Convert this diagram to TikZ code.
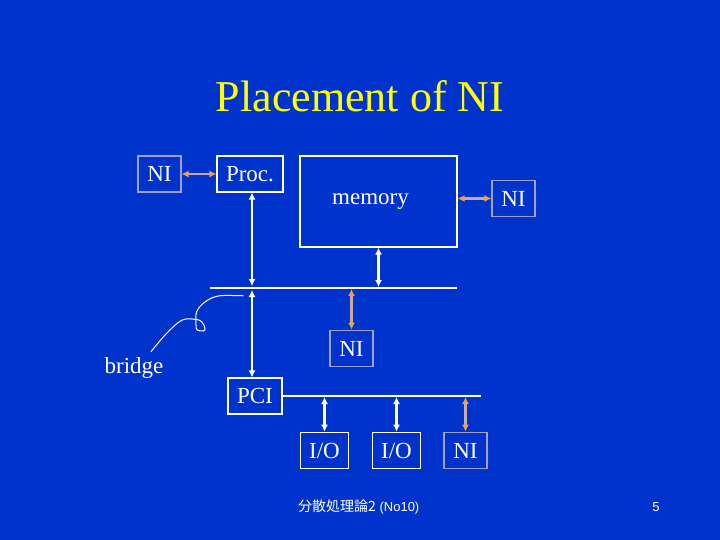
\documentclass[tikz,border=0pt]{standalone}
\usepackage{fontspec}
\setmainfont{Liberation Serif}
\newfontfamily\jpfont{Noto Sans CJK JP}
\newfontfamily\arfont{Liberation Sans}
\usetikzlibrary{arrows.meta}
\definecolor{bg}{RGB}{0,51,204}
\definecolor{lilac}{RGB}{160,160,205}
\definecolor{oshaft}{RGB}{200,170,170}
\definecolor{ohead}{RGB}{240,160,60}
\definecolor{ttl}{RGB}{255,255,0}
\tikzset{
  box/.style={draw=white, line width=1.1pt, text=white, inner sep=0pt, font=\fontsize{23}{26}\selectfont},
  nibox/.style={box, draw=lilac},
  warrow/.style={draw=white, line width=2.4pt, {Latex[length=7pt,width=7pt]}-{Latex[length=7pt,width=7pt]}},
  oarrow/.style={draw=oshaft, line width=2.4pt, {Latex[length=7pt,width=7pt,color=ohead]}-{Latex[length=7pt,width=7pt,color=ohead]}},
  bus/.style={draw=white, line width=1.2pt},
  lbl/.style={text=white, inner sep=0pt, font=\fontsize{23}{26}\selectfont}
}
\begin{document}
\begin{tikzpicture}[x=1pt,y=-1pt]
\fill[bg] (0,0) rectangle (720,540);
\useasboundingbox (0,0) rectangle (720,540);

\node[text=ttl, font=\fontsize{44}{50}\selectfont] (title) at (360,96) {Placement of NI};

\node[nibox, minimum width=43pt, minimum height=36pt] (niL) at (159.5,174) {NI};
\node[box, minimum width=66pt, minimum height=36pt] (proc) at (250,174) {Proc.};
\node[box, minimum width=157pt, minimum height=91pt, label={[lbl, xshift=-8pt]center:memory}] (mem) at (378.5,201.5) {};
\node[nibox, minimum width=43pt, minimum height=36.5pt] (niR) at (513.5,198.5) {NI};
\node[nibox, minimum width=43pt, minimum height=36.5pt] (niM) at (351.5,348.5) {NI};
\node[box, minimum width=54pt, minimum height=36pt] (pci) at (255,396) {PCI};
\node[box, minimum width=48.5pt, minimum height=36.5pt] (io1) at (324.5,450.5) {I/O};
\node[box, minimum width=48.5pt, minimum height=36.5pt] (io2) at (396.5,450.5) {I/O};
\node[nibox, minimum width=43pt, minimum height=36.5pt] (niB) at (465.5,450.5) {NI};
\node[lbl] (bridge) at (134,368) {bridge};

\node[text=white, inner sep=0pt, anchor=base west] (foot) at (298,511) {\fontsize{14}{16}\selectfont\jpfont 分散処理論2\arfont\fontsize{13}{16}\selectfont\ (No10)};
\node[text=white, inner sep=0pt, font=\arfont\fontsize{13}{16}\selectfont, anchor=base] (pg) at (656,511) {5};

% buses
\coordinate (busL) at (210,288);
\coordinate (busR) at (457,288);
\coordinate (pbusR) at (481,396);
\coordinate (vx) at (252,0);
\draw[bus] (busL) -- (busR);
\draw[bus] (pci.east) -- (pbusR);

% connectors
\draw[oarrow] (niL.east) -- (proc.west);
\draw[oarrow] (niR.west -| mem.east) -- (niR.west);
\draw[warrow, shorten >=2pt] (vx |- proc.south) -- (vx |- busL);
\draw[warrow, shorten <=2pt] (vx |- busL) -- (vx |- pci.north);
\draw[warrow, shorten >=1pt] (mem.south) -- (mem.south |- busL);
\draw[oarrow, shorten <=1pt] (niM.north |- busL) -- (niM.north);
\draw[warrow, shorten <=1pt] (io1.north |- pci.east) -- (io1.north);
\draw[warrow, shorten <=1pt] (io2.north |- pci.east) -- (io2.north);
\draw[oarrow, shorten <=1pt] (niB.north |- pci.east) -- (niB.north);

% bridge callout
\draw[white, line width=1pt] plot[smooth, tension=0.6] coordinates {
 (151,351.7) (166,334) (181.7,320.3) (195,319.3) (201.7,321.7) (205,328.3) (203.3,331) (197.3,330) (196,325) (196.7,311.7) (205,302) (218.3,296) (240,295.7) (243.3,296)};
\end{tikzpicture}
\end{document}
